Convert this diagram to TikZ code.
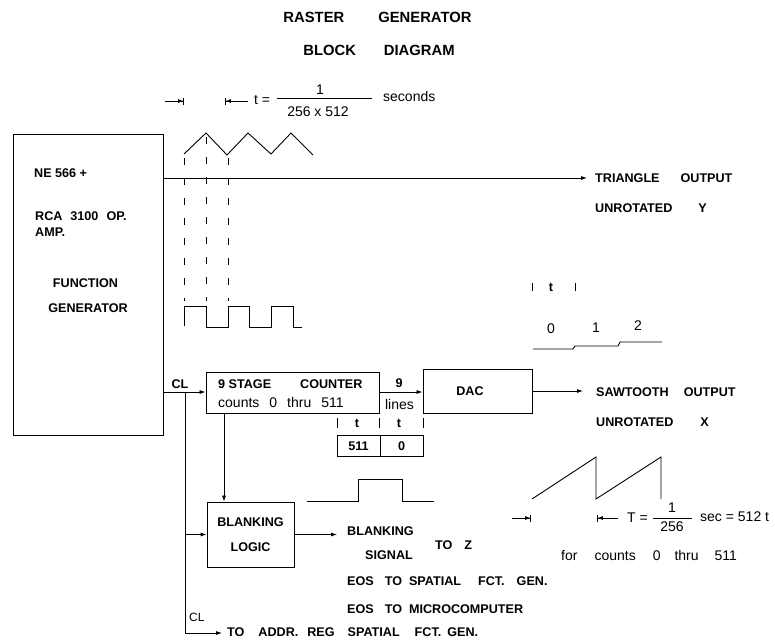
\documentclass[tikz,border=0pt]{standalone}
\usepackage{fontspec}
\setmainfont{Liberation Sans}
\usetikzlibrary{arrows.meta}
\newcommand{\lab}{\fontsize{12.6}{12.6}\selectfont\bfseries}
\newcommand{\low}{\fontsize{14}{14}\selectfont}
\tikzset{
	sig/.style={-{Latex[length=6pt,width=4pt]}, line width=0.8pt},
	dimmark/.style={-{Latex[length=5pt,width=4pt]Bar[width=7pt]}, line width=0.8pt},
	wave/.style={line width=0.9pt},
	guide/.style={dash pattern=on 7pt off 13pt, line width=0.8pt},
	blockbox/.style={draw, line width=0.9pt, inner sep=0pt, align=center, font=\lab},
	lab/.style={inner sep=0pt, font=\lab, anchor=west},
	mid/.style={inner sep=0pt, font=\lab, anchor=center},
	lowlab/.style={inner sep=0pt, font=\low, anchor=west},
	lowmid/.style={inner sep=0pt, font=\low, anchor=center},
}
\begin{document}
\begin{tikzpicture}[x=1pt, y=-1pt]
	\useasboundingbox (0,0) rectangle (775,640);
	% title
	\node[mid, font=\lab\fontsize{14.8}{14.8}\selectfont] (title1) at (377.5,17) {RASTER\hspace{34pt}GENERATOR};
	\node[mid, font=\lab\fontsize{14.8}{14.8}\selectfont] (title2) at (379,50) {BLOCK\hspace{28pt}DIAGRAM};
	% blocks
	\node[blockbox, minimum width=150pt, minimum height=301pt] (fg) at (88,284.5) {};
	\node[blockbox, minimum width=173pt, minimum height=41pt] (ctr) at (292.5,392.5) {};
	\node[blockbox, minimum width=109pt, minimum height=44pt] (dac) at (477.5,391) {};
	\node[blockbox, minimum width=87pt, minimum height=65pt] (blk) at (250.5,534.5) {BLANKING\\[12pt]LOGIC};
	\node[blockbox, minimum width=43pt, minimum height=21pt] (cnt1) at (358.5,446) {511};
	\node[blockbox, minimum width=43pt, minimum height=21pt] (cnt0) at (401.5,446) {0};
	% text in the blocks
	\node[lab] (fg1) at (34,173) {NE 566 +};
	\node[lab] (fg2) at (35,216) {RCA\hspace{8pt}3100\hspace{8pt}OP.};
	\node[lab] (fg3) at (35,232) {AMP.};
	\node[mid] (fg4) at (85.5,283) {FUNCTION};
	\node[mid] (fg5) at (88,308) {GENERATOR};
	\node[lab] (ctr1) at (218,384) {9 STAGE\hspace{29pt}COUNTER};
	\node[lowlab] (ctr2) at (218,402) {counts\hspace{10pt}0\hspace{10pt}thru\hspace{10pt}511};
	\node[mid] (daclab) at (470,391) {DAC};
	% outputs
	\coordinate (clsplit) at (185,392);
	\coordinate (clsrc) at (163,392);
	\coordinate (triout) at (163,178);
	\coordinate (ctrdown) at (224,413);
	\coordinate (clend) at (185,633);
	\node[lab] (tri1) at (595,178) {TRIANGLE\hspace{21pt}OUTPUT};
	\node[lab] (tri2) at (595,208) {UNROTATED\hspace{26pt}Y};
	\node[lab] (saw1) at (596,392) {SAWTOOTH\hspace{15pt}OUTPUT};
	\node[lab] (saw2) at (596,422) {UNROTATED\hspace{27pt}X};
	\node[lab] (sig1) at (347,531) {BLANKING};
	\node[lab] (sig2) at (365,555) {SIGNAL};
	\node[lab] (toz) at (435,545) {TO\hspace{12pt}Z};
	\node[lab] (eos1) at (347,581) {EOS\hspace{11pt}TO\hspace{7pt}SPATIAL\hspace{17pt}FCT.\hspace{12pt}GEN.};
	\node[lab] (eos2) at (347,609) {EOS\hspace{11pt}TO\hspace{7pt}MICROCOMPUTER};
	\node[lab] (addr) at (227,632) {TO\hspace{14pt}ADDR.\hspace{9pt}REG\hspace{13pt}SPATIAL\hspace{15pt}FCT.\hspace{6pt}GEN.};
	\draw[sig, shorten >=8pt] (triout) -- (tri1.west);
	\draw[sig, shorten >=13pt] (dac.east) -- (dac.east -| saw1.west);
	\draw[sig] (ctr.east |- clsplit) -- (ctr.east |- clsplit -| dac.west);
	\node[mid] (nine) at (399,383) {9};
	\node[lowmid] (lines) at (399.5,404) {lines};
	\draw[sig] (clsrc) -- (clsrc -| ctr.west);
	\node[mid] (cl1) at (180,384) {CL};
	\draw[sig] (ctrdown) -- (ctrdown |- blk.north);
	\draw[wave] (clsplit) -- (clend);
	\draw[sig, shorten >=5pt] (clend) -- (clend -| addr.west);
	\draw[sig] (clsplit |- blk.west) -- (blk.west);
	\draw[sig, shorten >=10pt] (blk.east) -- (blk.east -| sig1.west);
	\node[lowlab, font=\fontsize{12}{12}\selectfont] (cl2) at (189,617) {CL};
	% waves
	\draw[wave] (184,154) -- (206,133) -- (227,155) -- (248,133) -- (271,154) -- (291,133) -- (313,155);
	\draw[wave] (184,326) -- (184,306) -- (206,306) -- (206,327) -- (228,327) -- (228,306) -- (249,306) -- (249,327) -- (271,327) -- (271,306) -- (293,306) -- (293,327) -- (302,327);
	\foreach \x/\y in {184/158,206/137,228/158} \draw[guide] (\x,\y) -- (\x,301);
	\draw[wave] (533,349) -- (573,349) -- (575,346) -- (618,346) -- (620,342) -- (662,342);
	\draw[wave] (307,501) -- (358,501) -- (358,479) -- (402,479) -- (402,501) -- (434,501);
	\draw[wave] (532,499) -- (596,457) -- (596,499) -- (661,457) -- (661,499);
	% timing marks
	\foreach \x in {532,575} \draw[wave] (\x,283) -- (\x,291);
	\foreach \x in {337,379,423} \draw[wave] (\x,418) -- (\x,428);
	\node[mid] (tt1) at (551,287) {t};
	\node[mid] (tt2) at (357,423) {t};
	\node[mid] (tt3) at (399,423) {t};
	\node[lowmid] (c0) at (551,329) {0};
	\node[lowmid] (c1) at (596,328) {1};
	\node[lowmid] (c2) at (638,326) {2};
	% t and T
	\coordinate (ta) at (165,101); \coordinate (tb) at (184,101);
	\coordinate (tc) at (248,101); \coordinate (td) at (225,101);
	\draw[dimmark] (ta) -- (tb);
	\draw[dimmark] (tc) -- (td);
	\node[lowlab] (tsym) at (254,100) {t =};
	\node[lowmid] (tnum) at (320,90) {1};
	\draw[wave] (277,98) -- (372,98);
	\node[lowmid] (tden) at (318,112) {256 x 512};
	\node[lowlab] (tsec) at (383,96) {seconds};
	\coordinate (Ta) at (512,518); \coordinate (Tb) at (531,518);
	\coordinate (Tc) at (618,518); \coordinate (Td) at (597,518);
	\draw[dimmark] (Ta) -- (Tb);
	\draw[dimmark] (Tc) -- (Td);
	\node[lowlab] (Tsym) at (627,518) {T =};
	\node[lowmid] (Tnum) at (672,508) {1};
	\draw[wave] (653,518) -- (692,518);
	\node[lowmid] (Tden) at (672,527) {256};
	\node[lowlab] (Tsec) at (700,517) {sec = 512 t};
	\node[lowlab] (forc) at (561,555) {for\hspace{17pt}counts\hspace{17pt}0\hspace{14pt}thru\hspace{16pt}511};
\end{tikzpicture}
\end{document}
